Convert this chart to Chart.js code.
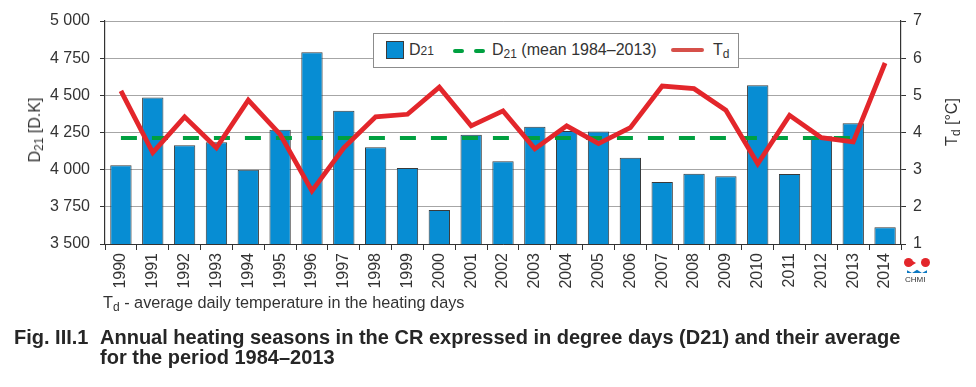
<!DOCTYPE html>
<html>
<head>
<meta charset="utf-8">
<script src="https://cdn.jsdelivr.net/npm/chart.js@4/dist/chart.umd.min.js"></script>
<style>
  html, body { margin:0; padding:0; background:#fff; }
  body { width:976px; height:387px; position:relative; overflow:hidden; font-family:"Liberation Sans", Arial, sans-serif; color:#333; }
  #c { position:absolute; left:0; top:0; }
  .abs { position:absolute; white-space:nowrap; }
  .rot { transform:translate(-50%,-50%) rotate(-90deg); font-size:16px; }
  sub { font-size:12px; vertical-align:-3px; line-height:0; }
  #legend { position:absolute; left:373px; top:33px; width:364px; height:33px; border:1px solid #8c8c8c; background:#fff; }
  .lt { position:absolute; font-size:16px; top:7px; white-space:nowrap; }
  .small { font-size:12px; }
  #caption { position:absolute; left:14px; top:327px; width:960px; font-weight:bold; font-size:20px; color:#262626; line-height:20px; white-space:nowrap; }
</style>
</head>
<body>
<canvas id="c" width="976" height="387"></canvas>

<div class="abs rot" style="left:35px; top:130px;">D<sub>21</sub> [D.K]</div>
<div class="abs rot" style="left:952px; top:122px;">T<sub>d</sub> [°C]</div>

<div id="legend">
  <div style="position:absolute; left:12px; top:7px; width:16px; height:16px; background:#078dd3; border:1px solid #3a3a3a;"></div>
  <div class="lt" style="left:35px;">D<span class="small">21</span></div>
  <div style="position:absolute; left:79px; top:15px; width:11px; height:4px; border-radius:2px; background:#00a040;"></div>
  <div style="position:absolute; left:100px; top:15px; width:11px; height:4px; border-radius:2px; background:#00a040;"></div>
  <div class="lt" style="left:118px;">D<sub>21</sub> (mean 1984–2013)</div>
  <div style="position:absolute; left:297px; top:14px; width:33px; height:4px; border-radius:2px; background:#d6504a;"></div>
  <div class="lt" style="left:339px;">T<sub>d</sub></div>
</div>

<div class="abs" style="left:103px; top:293px; font-size:16.3px;">T<sub>d</sub> - average daily temperature in the heating days</div>

<div class="abs" style="left:902px; top:258px; width:30px; height:30px;">
  <div style="position:absolute; left:2px; top:0; width:9px; height:9px; border-radius:50%; background:#e3262b;"></div>
  <div style="position:absolute; left:9px; top:2px; width:0; height:0; border-top:3px solid transparent; border-bottom:3px solid transparent; border-left:5px solid #e3262b;"></div>
  <div style="position:absolute; left:19px; top:0; width:9px; height:9px; border-radius:50%; background:#e3262b;"></div>
  <div style="position:absolute; left:5px; top:11px; width:20px; height:4px; background:#0a78c2; clip-path:polygon(0 100%,0 30%,25% 100%,50% 20%,75% 100%,100% 30%,100% 100%);"></div>
  <div style="position:absolute; left:3px; top:17px; font-size:8px; color:#333;">CHMI</div>
</div>

<div id="caption">
  <div style="position:relative; height:20px;">Fig. III.1<span style="position:absolute; left:86px; top:0;">Annual heating seasons in the CR expressed in degree days (D21) and their average</span></div>
  <div style="padding-left:86px;">for the period 1984–2013</div>
</div>

<script>
const years = ['1990','1991','1992','1993','1994','1995','1996','1997','1998','1999','2000','2001','2002','2003','2004','2005','2006','2007','2008','2009','2010','2011','2012','2013','2014'];
const d21 = [4030,4486,4164,4184,4000,4269,4789,4397,4150,4011,3729,4235,4056,4289,4260,4256,4080,3917,3973,3955,4567,3971,4225,4312,3612];
const d21Mean = [4213,4213,4213,4213,4213,4213,4213,4213,4213,4213,4213,4213,4213,4213,4213,4213,4213,4213,4213,4213,4213,4213,4213,4213,null];
const td = [5.12,3.46,4.42,3.59,4.87,3.95,2.43,3.59,4.42,4.49,5.22,4.18,4.58,3.56,4.18,3.70,4.13,5.25,5.18,4.60,3.16,4.46,3.86,3.75,5.87];
const leftTicks = [3500,3750,4000,4250,4500,4750,5000];
const rightTicks = [1,2,3,4,5,6,7];

const fmt = v => String(v).replace(/\B(?=(\d{3})+(?!\d))/g, ' ');
const FONT = {family:'"Liberation Sans", Arial, sans-serif', size:16};

new Chart(document.getElementById('c'), {
  data: {
    labels: years,
    datasets: [
      { type:'line', label:'Td', data:td, yAxisID:'y1', borderColor:'#e3262b', borderWidth:4.8, pointRadius:0, tension:0, borderJoinStyle:'miter', order:0 },
      { type:'line', label:'D21 mean', data:d21Mean, yAxisID:'y', borderColor:'#00a040', borderWidth:4, borderDash:[16,15], pointRadius:0, order:1 },
      { type:'bar', label:'D21', data:d21, yAxisID:'y', backgroundColor:'#078dd3', borderColor:'#3a3a3a', borderWidth:1, barPercentage:0.67, categoryPercentage:1, order:2 }
    ]
  },
  options: {
    responsive:false, animation:false,
    layout:{ padding:{ top:21, left:0, right:0, bottom:0 } },
    plugins:{ legend:{display:false}, tooltip:{enabled:false} },
    scales:{
      x:{
        offset:true,
        grid:{ display:true, drawOnChartArea:false, drawTicks:true, tickLength:6, color:'#333', offset:true },
        border:{ color:'#333', width:1 },
        ticks:{ minRotation:90, maxRotation:90, autoSkip:false, font:FONT, color:'#333', padding:3 },
        afterFit: s => { s.height = 143; }
      },
      y:{
        position:'left', min:3500, max:5000,
        afterBuildTicks: s => { s.ticks = leftTicks.map(v => ({value:v})); },
        ticks:{ callback: v => fmt(v), font:FONT, color:'#333', padding:10 },
        grid:{ color:'#a6a6a6', lineWidth:1, tickColor:'#333', tickLength:5 },
        border:{ color:'#333', width:1.2 },
        afterFit: s => { s.width = 105; }
      },
      y1:{
        position:'right', min:1, max:7,
        afterBuildTicks: s => { s.ticks = rightTicks.map(v => ({value:v})); },
        ticks:{ font:FONT, color:'#333', padding:7 },
        grid:{ drawOnChartArea:false, tickColor:'#333', tickLength:5 },
        border:{ color:'#333', width:1.2 },
        afterFit: s => { s.width = 75; }
      }
    }
  }
});
</script>
</body>
</html>
